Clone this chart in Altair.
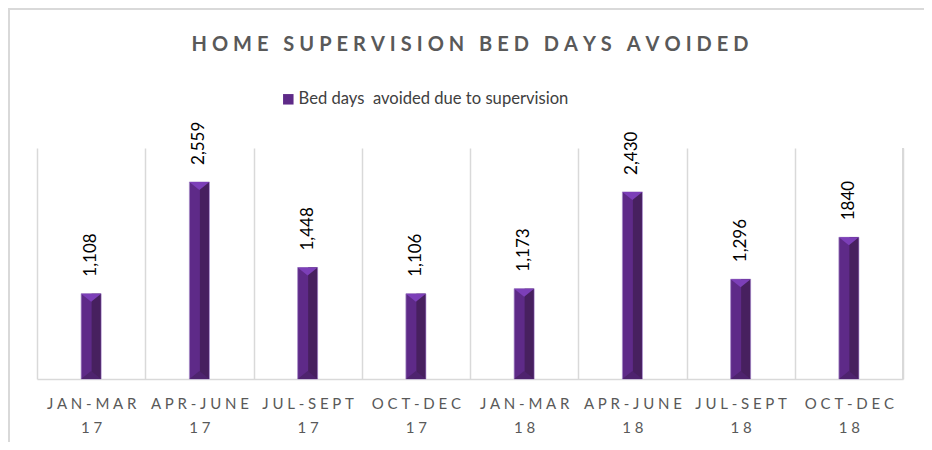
import altair as alt
import pandas as pd

# ---- data ----
categories = ["JAN-MAR 17", "APR-JUNE 17", "JUL-SEPT 17", "OCT-DEC 17",
              "JAN-MAR 18", "APR-JUNE 18", "JUL-SEPT 18", "OCT-DEC 18"]
values = [1108, 2559, 1448, 1106, 1173, 2430, 1296, 1840]
value_labels = ["1,108", "2,559", "1,448", "1,106", "1,173", "2,430", "1,296", "1840"]
series_name = "Bed days\u00a0 avoided due to supervision"
title_text = "HOME SUPERVISION BED DAYS AVOIDED"
y_max = 3000

FONT = "Lato"
W, H = 866, 231


def spaced(s, sp):
    return sp.join(s)


axis_labels = ["|".join(spaced(part, "\u2005") for part in c.split(" ")) for c in categories]

df = pd.DataFrame({
    "cat": axis_labels,
    "value": values,
    "zero": [0] * len(values),
    "label": value_labels,
    "series": [series_name] * len(values),
})

x_enc = alt.X("cat:N", sort=axis_labels, title=None,
              scale=alt.Scale(paddingInner=0, paddingOuter=0),
              axis=alt.Axis(labelExpr="split(datum.label, '|')", labelAngle=0,
                            labelFont=FONT, labelFontSize=15, labelColor="#595959",
                            labelLineHeight=24, labelPadding=17, ticks=False,
                            labelOverlap=False, labelLimit=0,
                            domainColor="#d9d9d9", domainWidth=1.5,
                            grid=True, gridColor="#d9d9d9", gridWidth=1.5,
                            tickBand="extent"))
y_scale = alt.Scale(domain=[0, y_max])
y_enc = alt.Y("value:Q", scale=y_scale, axis=None)

base = alt.Chart(df)

bars = base.mark_bar(size=20, stroke="#a88cc8", strokeWidth=0.7).encode(
    x=x_enc, y=y_enc,
    color=alt.Color("series:N", scale=alt.Scale(range=["#5e2a88"]),
                    legend=alt.Legend(orient="none", legendX=243, legendY=-57,
                                      title=None, symbolType="square", symbolSize=110,
                                      symbolStrokeWidth=0, labelFont=FONT,
                                      labelFontSize=16.6, labelColor="#404040",
                                      labelLimit=0,
                                      padding=0, symbolOffset=0, labelOffset=2)),
)

dark = base.mark_bar(size=9, xOffset=5, color="#47205f").encode(x=x_enc, y=y_enc)

top_tri = base.mark_point(shape="M-1,0L1,0L0,0.8Z", size=400, filled=True,
                          color="#7c3fb8", opacity=1, strokeWidth=0).encode(x=x_enc, y=y_enc)

bottom_tri = base.mark_point(shape="M-1,0L1,0L0,-0.8Z", size=400, filled=True,
                             color="#4e236e", opacity=1, strokeWidth=0).encode(
    x=x_enc, y=alt.Y("zero:Q", scale=y_scale, axis=None))

text = base.mark_text(angle=270, align="left", baseline="middle", yOffset=-17,
                      font=FONT, fontSize=17, color="#000000").encode(
    x=x_enc, y=y_enc, text="label:N")

left_border = base.mark_rule(color="#d9d9d9", strokeWidth=2).encode(
    x=alt.value(-28), y=alt.value(-140), y2=alt.value(H + 70))
top_border = base.mark_rule(color="#d9d9d9", strokeWidth=2).encode(
    y=alt.value(-139), x=alt.value(-29), x2=alt.value(W + 30))
right_grid = base.mark_rule(color="#d9d9d9", strokeWidth=1.5).encode(
    x=alt.value(W), y=alt.value(0), y2=alt.value(H))

chart = alt.layer(left_border, top_border, right_grid, bars, dark, top_tri, bottom_tri, text).properties(
    width=W, height=H,
    title=alt.TitleParams(spaced(title_text, "\u2005"), font=FONT, fontSize=20,
                          fontWeight="bold", color="#595959", anchor="middle",
                          frame="group", offset=-64, baseline="alphabetic"),
    padding={"left": 29, "top": 140, "right": 21, "bottom": 63},
    autosize=alt.AutoSizeParams(type="none"),
    background="white",
).configure_view(stroke=None)

chart.save("out.html", embed_options={"renderer": "svg", "actions": False})
